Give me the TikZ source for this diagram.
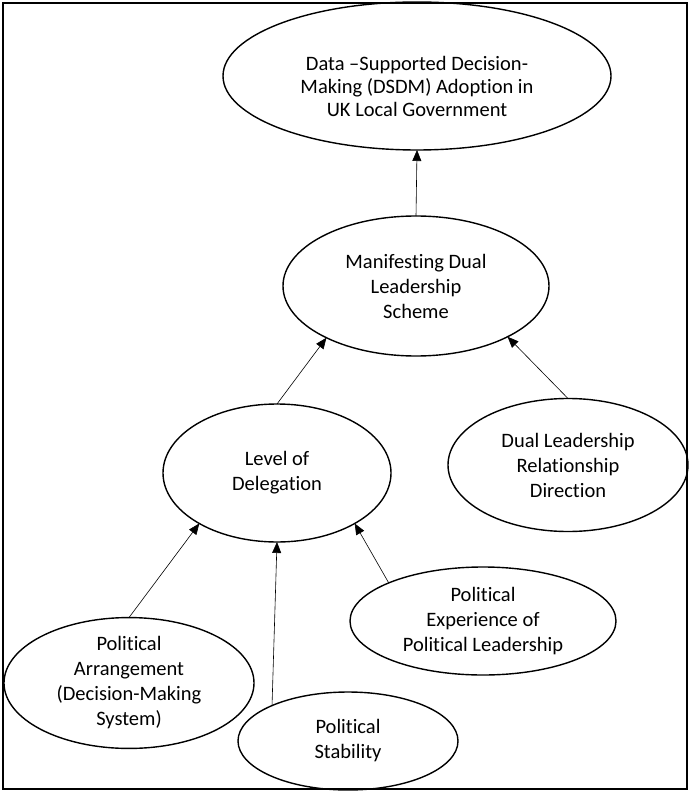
\documentclass[tikz,border=0pt]{standalone}
\usepackage{fontspec}
\setmainfont{Carlito}[Ligatures=NoCommon]
\usetikzlibrary{arrows.meta,shapes.geometric}

\tikzset{
  bubble/.style={draw, ellipse, line width=1.4pt, inner sep=0pt, outer sep=0pt,
    align=center, font=\fontsize{20.5}{25}\selectfont},
  link/.style={line width=0.6pt, -{Triangle[length=11pt,width=9pt]}},
  frame/.style={line width=2pt}
}

\begin{document}
\begin{tikzpicture}[x=1pt,y=-1pt]
  \useasboundingbox (0,0) rectangle (690,791);
  \draw[frame] (3,3) rectangle (687,789);

  % outcome
  \node[bubble, minimum width=388pt, minimum height=148pt,
        label={[align=center, font=\fontsize{20.5}{23}\selectfont, yshift=-10pt]center:Data –Supported Decision-\\Making (DSDM) Adoption in\\UK Local Government}]
        (dsdm) at (417,76) {};

  % mediators
  \node[bubble, minimum width=266pt, minimum height=140pt] (dual) at (416,286)
        {Manifesting Dual\\Leadership\\Scheme};
  \node[bubble, minimum width=228pt, minimum height=138pt] (lod) at (277,473)
        {Level of\\Delegation};
  \node[bubble, minimum width=240pt, minimum height=133pt] (rel) at (568,465)
        {Dual Leadership\\Relationship\\Direction};

  % antecedents
  \node[bubble, minimum width=250pt, minimum height=120pt] (arr) at (129,683)
        {Political\\Arrangement\\(Decision-Making\\System)};
  \node[bubble, minimum width=220pt, minimum height=98pt] (stab) at (348,741)
        {Political\\Stability};
  \node[bubble, minimum width=266pt, minimum height=108pt] (exp) at (483,621)
        {Political\\Experience of\\Political Leadership};

  % connectors
  \draw[link] (dual.north) -- (dsdm.south);
  \draw[link] (lod.north) -- (dual.-150);
  \draw[link] (rel.north) -- (dual.-29);
  \draw[link] (arr.north) -- (lod.-147);
  \draw[link] (stab.155) -- (lod.south);
  \draw[link] (exp.158) -- (lod.-33);
\end{tikzpicture}
\end{document}
